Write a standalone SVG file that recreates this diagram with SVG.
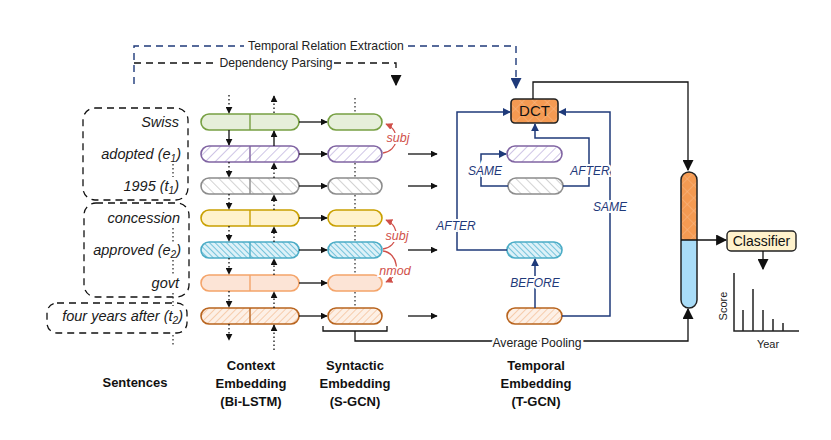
<svg xmlns="http://www.w3.org/2000/svg" width="831" height="440" viewBox="0 0 831 440">
<style>
text{font-family:"Liberation Sans",Arial,sans-serif;}
.word{font-size:14.5px;font-style:italic;fill:#1a1a1a;text-anchor:end;}
.lbl{font-size:12.2px;fill:#222;text-anchor:middle;}
.title{font-size:13px;font-weight:bold;fill:#111;text-anchor:middle;}
.rel{font-size:12px;font-style:italic;fill:#1F3A7A;text-anchor:middle;stroke:#fff;stroke-width:4px;paint-order:stroke;}
.dep{font-size:12.5px;font-style:italic;fill:#D0504A;text-anchor:middle;stroke:#fff;stroke-width:4px;paint-order:stroke;}
.k{fill:none;stroke:#111;stroke-width:1.3;}
.kd{fill:none;stroke:#111;stroke-width:1.3;stroke-dasharray:1.5 2.5;}
.nv{fill:none;stroke:#1F3A7A;stroke-width:1.5;}
.sent{fill:none;stroke:#111;stroke-width:1.3;stroke-dasharray:7 5;}
.dots{fill:none;stroke:#333;stroke-width:1.3;stroke-dasharray:1.5 2.5;}
.b{stroke-width:1.6;}
</style>
<defs>
<marker id="ak" viewBox="0 0 10 10" refX="9" refY="5" markerWidth="7" markerHeight="7" markerUnits="userSpaceOnUse" orient="auto"><path d="M0,0 L10,5 L0,10 Z" fill="#111"/></marker>
<marker id="akb" viewBox="0 0 10 10" refX="9" refY="5" markerWidth="11" markerHeight="11" markerUnits="userSpaceOnUse" orient="auto"><path d="M0,0 L10,5 L0,10 Z" fill="#111"/></marker>
<marker id="an" viewBox="0 0 10 10" refX="9" refY="5" markerWidth="8" markerHeight="8" markerUnits="userSpaceOnUse" orient="auto"><path d="M0,0 L10,5 L0,10 Z" fill="#1F3A7A"/></marker>
<marker id="anb" viewBox="0 0 10 10" refX="9" refY="5" markerWidth="11" markerHeight="11" markerUnits="userSpaceOnUse" orient="auto"><path d="M0,0 L10,5 L0,10 Z" fill="#1F3A7A"/></marker>
<marker id="ar" viewBox="0 0 10 10" refX="9" refY="5" markerWidth="7" markerHeight="7" markerUnits="userSpaceOnUse" orient="auto"><path d="M0,0 L10,5 L0,10 Z" fill="#D0504A"/></marker>
<pattern id="hPur" width="7" height="7" patternUnits="userSpaceOnUse" patternTransform="rotate(45)"><rect width="7" height="7" fill="#fff"/><line x1="0" y1="0" x2="0" y2="7" stroke="#C3B6E0" stroke-width="1.6"/></pattern>
<pattern id="hGry" width="7" height="7" patternUnits="userSpaceOnUse" patternTransform="rotate(-45)"><rect width="7" height="7" fill="#fff"/><line x1="0" y1="0" x2="0" y2="7" stroke="#C8C8C8" stroke-width="1.6"/></pattern>
<pattern id="hCy" width="4" height="4" patternUnits="userSpaceOnUse" patternTransform="rotate(-45)"><rect width="4" height="4" fill="#DDF1F8"/><line x1="0" y1="0" x2="0" y2="4" stroke="#5BB8D4" stroke-width="1.6"/></pattern>
<pattern id="hBr" width="5" height="5" patternUnits="userSpaceOnUse" patternTransform="rotate(45)"><rect width="5" height="5" fill="#FDF0E6"/><line x1="0" y1="0" x2="0" y2="5" stroke="#F3B98C" stroke-width="1.3"/></pattern>
<pattern id="hOr" width="9" height="9" patternUnits="userSpaceOnUse" patternTransform="rotate(45)"><rect width="9" height="9" fill="#F49A52"/><path d="M0,0 V9 M0,0 H9" stroke="#F8B985" stroke-width="1"/></pattern>
</defs>

<!-- sentences -->
<g id="sentences">
<rect class="sent" x="83" y="108" width="105" height="92" rx="12"/>
<rect class="sent" x="84" y="203" width="105" height="94" rx="12"/>
<rect class="sent" x="47" y="303" width="140" height="30" rx="10"/>
<text class="word" x="179" y="127">Swiss</text>
<text class="word" x="181" y="159">adopted (e<tspan font-size="10" dy="3">1</tspan><tspan dy="-3">)</tspan></text>
<text class="word" x="179" y="191">1995 (t<tspan font-size="10" dy="3">1</tspan><tspan dy="-3">)</tspan></text>
<text class="word" x="180" y="223">concession</text>
<text class="word" x="181" y="255">approved (e<tspan font-size="10" dy="3">2</tspan><tspan dy="-3">)</tspan></text>
<text class="word" x="179" y="288">govt</text>
<text class="word" x="183" y="321">four years after (t<tspan font-size="10" dy="3">2</tspan><tspan dy="-3">)</tspan></text>
<path class="dots" d="M173,164 V177 M173,228 V242 M173,260 V274 M173,293 V306 M173,335 V347"/>
</g>

<!-- Bi-LSTM -->
<g id="bilstm">
<rect class="b" x="201" y="114" width="98" height="16" rx="8" fill="#E6EFDA" stroke="#77A043"/><line x1="250" y1="114" x2="250" y2="130" stroke="#77A043" stroke-width="1.4"/>
<rect class="b" x="201" y="146" width="98" height="16" rx="8" fill="url(#hPur)" stroke="#8064A2"/><line x1="250" y1="146" x2="250" y2="162" stroke="#8064A2" stroke-width="1.4"/>
<rect class="b" x="201" y="178" width="98" height="16" rx="8" fill="url(#hGry)" stroke="#8C8C8C"/><line x1="250" y1="178" x2="250" y2="194" stroke="#8C8C8C" stroke-width="1.4"/>
<rect class="b" x="201" y="210" width="98" height="16" rx="8" fill="#FFF2CC" stroke="#C9A000"/><line x1="250" y1="210" x2="250" y2="226" stroke="#C9A000" stroke-width="1.4"/>
<rect class="b" x="201" y="242" width="98" height="16" rx="8" fill="url(#hCy)" stroke="#4BACC6"/><line x1="250" y1="242" x2="250" y2="258" stroke="#4BACC6" stroke-width="1.4"/>
<rect class="b" x="201" y="275" width="98" height="16" rx="8" fill="#FCE4D6" stroke="#F4A46A"/><line x1="250" y1="275" x2="250" y2="291" stroke="#F4A46A" stroke-width="1.4"/>
<rect class="b" x="201" y="308" width="98" height="16" rx="8" fill="url(#hBr)" stroke="#B8641E"/><line x1="250" y1="308" x2="250" y2="324" stroke="#B8641E" stroke-width="1.4"/>
</g>

<!-- S-GCN -->
<g id="sgcn">
<rect class="b" x="328" y="114" width="54" height="16" rx="8" fill="#E6EFDA" stroke="#77A043"/>
<rect class="b" x="328" y="146" width="54" height="16" rx="8" fill="url(#hPur)" stroke="#8064A2"/>
<rect class="b" x="328" y="178" width="54" height="16" rx="8" fill="url(#hGry)" stroke="#8C8C8C"/>
<rect class="b" x="328" y="210" width="54" height="16" rx="8" fill="#FFF2CC" stroke="#C9A000"/>
<rect class="b" x="328" y="242" width="54" height="16" rx="8" fill="url(#hCy)" stroke="#4BACC6"/>
<rect class="b" x="328" y="275" width="54" height="16" rx="8" fill="#FCE4D6" stroke="#F4A46A"/>
<rect class="b" x="328" y="308" width="54" height="16" rx="8" fill="url(#hBr)" stroke="#B8641E"/>
<path class="dots" d="M355,98 V113 M355,163 V177 M355,195 V209 M355,227 V241 M355,259 V274 M355,292 V307"/>
</g>

<!-- T-GCN -->
<g id="tgcn">
<rect class="b" x="507" y="146" width="55" height="16" rx="8" fill="url(#hPur)" stroke="#8064A2"/>
<rect class="b" x="508" y="178" width="55" height="16" rx="8" fill="url(#hGry)" stroke="#8C8C8C"/>
<rect class="b" x="507" y="242" width="55" height="16" rx="8" fill="url(#hCy)" stroke="#4BACC6"/>
<rect class="b" x="507" y="308" width="55" height="16" rx="8" fill="url(#hBr)" stroke="#B8641E"/>
</g>

<g id="dct">
<rect x="511" y="99" width="47" height="24" rx="4" fill="url(#hOr)" stroke="#222" stroke-width="1.6"/>
<text x="534.5" y="116" font-size="15" text-anchor="middle" fill="#111">DCT</text>
</g>

<g id="doc-vector">
<path d="M681,240 V180 A8,8 0 0 1 697,180 V240 Z" fill="url(#hOr)"/>
<path d="M681,240 V300 A8,8 0 0 0 697,300 V240 Z" fill="#A9DCF7"/>
<rect x="681" y="172" width="16" height="136" rx="8" fill="none" stroke="#222" stroke-width="1.5"/>
</g>

<g id="classifier">
<rect x="727" y="231" width="69" height="20" rx="4" fill="#FFF2CC" stroke="#222" stroke-width="1.4"/>
<text x="761.5" y="246" font-size="14" text-anchor="middle" fill="#111">Classifier</text>
</g>

<g id="chart">
<path d="M734,273 V331 H799" fill="none" stroke="#222" stroke-width="1.5"/>
<path d="M743,331 V310 M753,331 V289 M763,331 V310 M773,331 V319 M783,331 V323" fill="none" stroke="#222" stroke-width="1.5"/>
<text x="0" y="0" font-size="11" text-anchor="middle" fill="#222" transform="translate(727,306) rotate(-90)">Score</text>
<text x="768" y="348" font-size="11" text-anchor="middle" fill="#222">Year</text>
</g>

<!-- connectors -->
<g id="connectors">
<!-- top dashed -->
<path d="M134,84 V46 H244 M408,46 H516 V86" fill="none" stroke="#1F3A7A" stroke-width="1.4" stroke-dasharray="7 5"/>
<path d="M516,80 V88" class="nv" marker-end="url(#anb)"/>
<path d="M134,63 H218 M334,63 H396 V70" fill="none" stroke="#111" stroke-width="1.3" stroke-dasharray="7 5"/>
<path d="M396,76 V85" class="k" marker-end="url(#akb)"/>
<text class="lbl" x="326" y="50">Temporal Relation Extraction</text>
<text class="lbl" x="276" y="67">Dependency Parsing</text>

<!-- Bi-LSTM verticals -->
<path class="kd" d="M229,95 V113" marker-end="url(#ak)"/>
<path class="kd" d="M274,113 V96" marker-end="url(#ak)"/>
<path class="k" d="M229,130 V145" marker-end="url(#ak)"/>
<path class="k" d="M274,146 V131" marker-end="url(#ak)"/>
<path class="kd" d="M229,162 V177" marker-end="url(#ak)"/>
<path class="kd" d="M274,178 V163" marker-end="url(#ak)"/>
<path class="kd" d="M229,194 V209" marker-end="url(#ak)"/>
<path class="kd" d="M274,210 V195" marker-end="url(#ak)"/>
<path class="kd" d="M229,226 V241" marker-end="url(#ak)"/>
<path class="kd" d="M274,242 V227" marker-end="url(#ak)"/>
<path class="kd" d="M229,258 V274" marker-end="url(#ak)"/>
<path class="kd" d="M274,275 V259" marker-end="url(#ak)"/>
<path class="kd" d="M229,291 V307" marker-end="url(#ak)"/>
<path class="kd" d="M274,308 V292" marker-end="url(#ak)"/>
<path class="kd" d="M229,324 V340" marker-end="url(#ak)"/>
<path class="kd" d="M274,350 V325" marker-end="url(#ak)"/>

<!-- Bi-LSTM to S-GCN -->
<path class="k" d="M299,122 H327" marker-end="url(#ak)"/>
<path class="k" d="M299,154 H327" marker-end="url(#ak)"/>
<path class="k" d="M299,186 H327" marker-end="url(#ak)"/>
<path class="k" d="M299,218 H327" marker-end="url(#ak)"/>
<path class="k" d="M299,250 H327" marker-end="url(#ak)"/>
<path class="k" d="M299,283 H327" marker-end="url(#ak)"/>
<path class="k" d="M299,316 H327" marker-end="url(#ak)"/>

<!-- S-GCN to T-GCN -->
<path class="k" d="M408,154 H437" marker-end="url(#ak)"/>
<path class="k" d="M408,186 H437" marker-end="url(#ak)"/>
<path class="k" d="M408,250 H437" marker-end="url(#ak)"/>
<path class="k" d="M408,316 H437" marker-end="url(#ak)"/>

<!-- dependency arcs -->
<path d="M383,153 C398,151 402,131 386,124" fill="none" stroke="#D0504A" stroke-width="1.3" marker-end="url(#ar)"/>
<path d="M383,249 C398,247 402,227 386,220" fill="none" stroke="#D0504A" stroke-width="1.3" marker-end="url(#ar)"/>
<path d="M383,251 C398,253 402,275 386,282" fill="none" stroke="#D0504A" stroke-width="1.3" marker-end="url(#ar)"/>
<text class="dep" x="398" y="142">subj</text>
<text class="dep" x="397" y="240">subj</text>
<text class="dep" x="395" y="275">nmod</text>

<!-- pooling bracket -->
<path class="k" d="M323,326 V331 H387 V326 M355,331 V341 H688 V310"/>
<path class="k" d="M688,318 V309" marker-end="url(#akb)"/>
<text x="537" y="347" font-size="12.2" text-anchor="middle" fill="#222" stroke="#fff" stroke-width="5" paint-order="stroke">Average Pooling</text>

<!-- DCT to doc vector -->
<path class="k" d="M533,99 V82 H688 V170" marker-end="url(#akb)"/>
<!-- doc vector to classifier -->
<path class="k" d="M681,240 H726" marker-end="url(#akb)"/>
<path class="k" d="M763,251 V269" marker-end="url(#akb)"/>

<!-- temporal relations -->
<path class="nv" d="M508,186 H481 V154 H506" marker-end="url(#an)"/>
<path class="nv" d="M563,186 H589 V138 H535 V124" marker-end="url(#an)"/>
<path class="nv" d="M507,250 H457 V112 H510" marker-end="url(#an)"/>
<path class="nv" d="M562,316 H610 V112 H559" marker-end="url(#an)"/>
<path class="nv" d="M535,308 V259" marker-end="url(#an)"/>
<text class="rel" x="485" y="175">SAME</text>
<text class="rel" x="590" y="175">AFTER</text>
<text class="rel" x="456" y="230">AFTER</text>
<text class="rel" x="610" y="211">SAME</text>
<text class="rel" x="535" y="287">BEFORE</text>
</g>

<!-- bottom titles -->
<g id="titles">
<text class="title" x="135" y="387">Sentences</text>
<text class="title" x="251" y="370">Context</text>
<text class="title" x="251" y="388">Embedding</text>
<text class="title" x="251" y="406">(Bi-LSTM)</text>
<text class="title" x="355" y="370">Syntactic</text>
<text class="title" x="355" y="388">Embedding</text>
<text class="title" x="355" y="406">(S-GCN)</text>
<text class="title" x="536" y="370">Temporal</text>
<text class="title" x="536" y="388">Embedding</text>
<text class="title" x="536" y="406">(T-GCN)</text>
</g>
</svg>
